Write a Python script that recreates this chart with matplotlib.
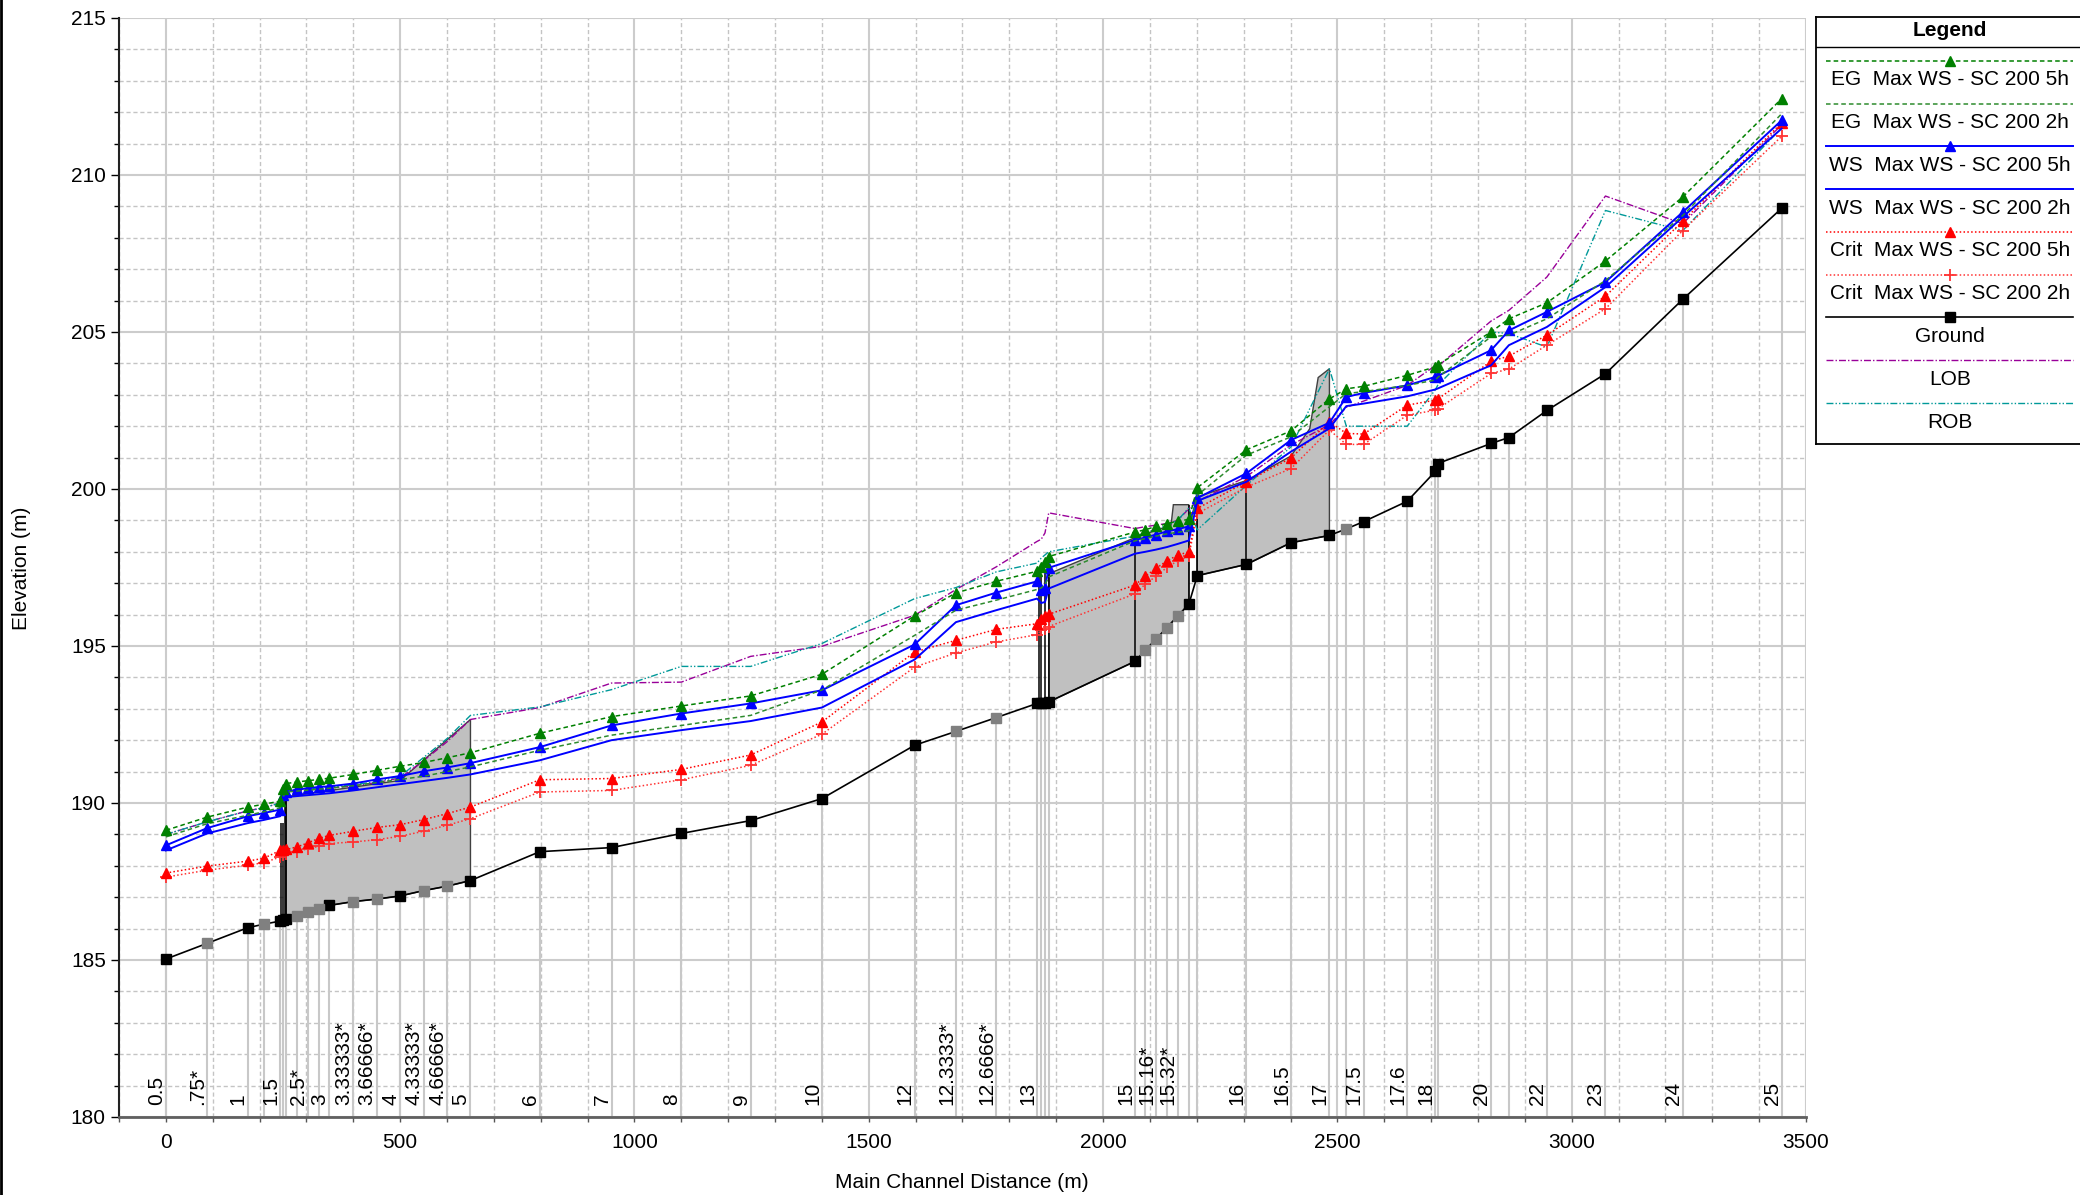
import numpy as np
import matplotlib
matplotlib.use('Agg')
import matplotlib.pyplot as plt
from matplotlib.ticker import MultipleLocator
from matplotlib.lines import Line2D
from matplotlib.patches import Polygon

plt.rcParams['font.family'] = ['Liberation Sans', 'DejaVu Sans']

# river stations along the main channel
dist = [0, 88, 175, 209, 244, 250, 257, 280, 303, 326, 349, 400, 450, 500, 550, 600, 650,
        798, 951, 1100, 1248, 1400, 1598, 1686, 1772, 1859, 1868, 1876, 1884,
        2068, 2090, 2113, 2136, 2159, 2183, 2201, 2306, 2401, 2483, 2519, 2556, 2649,
        2709, 2714, 2828, 2866, 2947, 3072, 3237, 3448]
rs_label = ['0.5', '.75*', '1', '', '1.5', '', '', '', '2.5*', '', '3', '3.33333*', '3.66666*',
            '4', '4.33333*', '4.66666*', '5', '6', '7', '8', '9', '10', '12', '12.3333*',
            '12.6666*', '13', '', '', '', '15', '', '15.16*', '', '15.32*', '', '', '16', '16.5',
            '17', '', '17.5', '17.6', '18', '', '20', '', '22', '23', '24', '25']
interp = [0, 1, 0, 1, 0, 0, 0, 1, 1, 1, 0, 1, 1, 0, 1, 1, 0,
          0, 0, 0, 0, 0, 0, 1, 1, 0, 0, 0, 0,
          0, 1, 1, 1, 1, 0, 0, 0, 0, 0, 1, 0, 0,
          0, 0, 0, 0, 0, 0, 0, 0]
ground = [185.03, 185.53, 186.03, 186.14, 186.24, 186.27, 186.30, 186.40, 186.53, 186.64, 186.74,
          186.86, 186.94, 187.04, 187.21, 187.35, 187.53,
          188.45, 188.58, 189.03, 189.44, 190.14, 191.84, 192.28, 192.72, 193.17, 193.19, 193.20, 193.22,
          194.51, 194.86, 195.22, 195.58, 195.95, 196.33, 197.24, 197.60, 198.29, 198.52, 198.73,
          198.96, 199.61, 200.56, 200.81, 201.45, 201.64, 202.50, 203.67, 206.04, 208.94]
eg_5h = [189.13, 189.55, 189.87, 189.96, 190.06, 190.45, 190.62, 190.67, 190.71, 190.75, 190.79,
         190.91, 191.04, 191.17, 191.29, 191.44, 191.60,
         192.22, 192.75, 193.09, 193.41, 194.10, 195.96, 196.69, 197.06, 197.38, 197.50, 197.67, 197.85,
         198.63, 198.70, 198.81, 198.89, 198.98, 199.03, 200.04, 201.25, 201.85, 202.87, 203.19,
         203.27, 203.62, 203.89, 203.95, 205.00, 205.42, 205.93, 207.26, 209.30, 212.43]
eg_2h = [188.92, 189.34, 189.61, 189.72, 189.85, 190.20, 190.35, 190.38, 190.41, 190.44, 190.47,
         190.55, 190.65, 190.75, 190.85, 191.00, 191.15,
         191.68, 192.16, 192.47, 192.79, 193.60, 195.34, 196.14, 196.46, 196.80, 196.85, 196.95, 197.20,
         198.35, 198.42, 198.50, 198.57, 198.62, 198.67, 199.80, 201.08, 201.66, 202.62, 203.04,
         203.10, 203.30, 203.47, 203.55, 204.85, 204.90, 205.42, 206.64, 208.71, 211.95]
ws_5h = [188.65, 189.20, 189.58, 189.68, 189.79, 190.25, 190.35, 190.43, 190.47, 190.51, 190.53,
         190.62, 190.75, 190.86, 191.01, 191.13, 191.27,
         191.78, 192.47, 192.85, 193.17, 193.59, 195.05, 196.30, 196.70, 197.06, 196.77, 196.85, 197.49,
         198.38, 198.45, 198.55, 198.65, 198.72, 198.81, 199.71, 200.50, 201.56, 202.11, 202.93,
         203.06, 203.30, 203.57, 203.60, 204.42, 205.05, 205.64, 206.59, 208.82, 211.74]
ws_2h = [188.49, 189.03, 189.36, 189.46, 189.58, 190.10, 190.19, 190.22, 190.25, 190.28, 190.31,
         190.40, 190.50, 190.60, 190.70, 190.80, 190.91,
         191.36, 192.00, 192.32, 192.61, 193.04, 194.57, 195.76, 196.14, 196.51, 196.37, 196.40, 196.83,
         197.94, 198.00, 198.07, 198.15, 198.25, 198.36, 199.62, 200.23, 201.19, 201.93, 202.64,
         202.72, 202.95, 203.17, 203.20, 203.94, 204.58, 205.16, 206.43, 208.66, 211.48]
crit_5h = [187.77, 187.99, 188.15, 188.24, 188.49, 188.50, 188.52, 188.60, 188.73, 188.87, 188.97,
           189.10, 189.22, 189.31, 189.47, 189.66, 189.87,
           190.74, 190.78, 191.07, 191.53, 192.58, 194.81, 195.18, 195.53, 195.71, 195.87, 195.95, 196.01,
           196.94, 197.22, 197.47, 197.71, 197.89, 198.00, 199.38, 200.23, 200.99, 202.14, 201.77,
           201.75, 202.67, 202.83, 202.86, 204.07, 204.23, 204.90, 206.14, 208.53, 211.66]
crit_2h = [187.64, 187.86, 188.02, 188.10, 188.28, 188.33, 188.39, 188.44, 188.55, 188.62, 188.71,
           188.76, 188.83, 188.94, 189.10, 189.29, 189.50,
           190.35, 190.40, 190.74, 191.20, 192.19, 194.33, 194.78, 195.13, 195.36, 195.50, 195.55, 195.62,
           196.66, 196.97, 197.22, 197.50, 197.71, 197.86, 199.22, 200.06, 200.65, 201.88, 201.42,
           201.42, 202.35, 202.51, 202.55, 203.68, 203.82, 204.58, 205.74, 208.23, 211.23]
lob = [189.00, 189.40, 189.75, 189.85, 190.00, 190.30, 190.35, 190.38, 190.41, 190.44, 190.47,
       190.55, 190.65, 190.80, 191.35, 191.95, 192.66,
       193.04, 193.82, 193.85, 194.67, 194.99, 195.98, 196.80, 197.52, 198.33, 198.40, 198.60, 199.24,
       198.74, 198.80, 198.85, 198.90, 199.00, 199.37, 199.60, 200.40, 201.40, 202.05, 202.60,
       202.80, 203.30, 203.93, 203.90, 205.35, 205.69, 206.75, 209.33, 208.45, 211.60]
rob = [189.00, 189.40, 189.75, 189.85, 190.00, 190.35, 190.40, 190.42, 190.45, 190.48, 190.50,
       190.58, 190.68, 190.85, 191.45, 192.05, 192.79,
       193.06, 193.61, 194.35, 194.35, 195.08, 196.51, 196.86, 197.36, 197.64, 197.80, 197.90, 198.00,
       198.50, 198.60, 198.70, 198.85, 199.00, 199.40, 198.70, 200.12, 201.34, 203.83, 202.00,
       202.00, 202.00, 203.16, 203.30, 205.00, 204.95, 204.52, 208.87, 208.23, 211.50]

# structure outlines (distance, top elevation)
deck1_x = [257, 500, 650]
deck1_top = [190.20, 190.72, 192.66]
deck2_x = [1884, 2068, 2145, 2150, 2183]
deck2_top = [197.30, 198.45, 198.85, 199.50, 199.50]
deck3_x = [2201, 2306, 2401, 2441, 2459, 2483]
deck3_top = [199.75, 200.27, 201.05, 201.92, 203.55, 203.83]
pier_x = [246, 250, 254, 257, 1864, 1868, 1876, 1884, 2068, 2183, 2201, 2306]
pier_top = [189.35, 189.35, 190.25, 190.25, 197.3, 197.3, 197.3, 197.3, 198.45, 199.5, 199.75, 200.27]

dist_a = np.array(dist, dtype=float)
ground_a = np.array(ground)

fig = plt.figure(figsize=(20.8, 11.95), dpi=100)
ax = fig.add_axes([119/2080, 1-1117/1195, 1687/2080, 1099/1195])
ax.set_xlim(-100, 3500)
ax.set_ylim(180, 215)
ax.xaxis.set_major_locator(MultipleLocator(500))
ax.xaxis.set_minor_locator(MultipleLocator(100))
ax.yaxis.set_major_locator(MultipleLocator(5))
ax.yaxis.set_minor_locator(MultipleLocator(1))
ax.set_axisbelow(True)
ax.grid(which='major', color='#cccccc', lw=1.5, ls='-')
ax.grid(which='minor', color='#c4c4c4', lw=1, ls=(0, (3, 2)))
ax.tick_params(axis='both', which='major', labelsize=15, direction='out')
ax.tick_params(axis='y', which='major', length=6, width=1)
ax.tick_params(axis='y', which='minor', length=3.5, width=1)
ax.tick_params(axis='x', which='both', length=3.5, width=1, color='#555555', pad=8)
for s in ['top', 'right']:
    ax.spines[s].set_visible(False)
ax.spines['bottom'].set_color('#606060')
ax.spines['bottom'].set_linewidth(2)
ax.spines['left'].set_color('#222222')
ax.spines['left'].set_linewidth(1.5)

# station lines up to the ground
ax.vlines(dist_a, 180, ground_a, color='#c8c8c8', lw=1.5, zorder=1)


def deck(xs, tops):
    m = (dist_a >= xs[0]) & (dist_a <= xs[-1])
    pts = list(zip(xs, tops)) + list(zip(dist_a[m][::-1], ground_a[m][::-1]))
    ax.add_patch(Polygon(pts, closed=True, fc='#c0c0c0', ec='#404040', lw=1, zorder=2))


deck(deck1_x, deck1_top)
deck(deck2_x, deck2_top)
deck(deck3_x, deck3_top)
ax.vlines(pier_x, np.interp(pier_x, dist_a, ground_a), pier_top, color='black', lw=1.1, zorder=3)

styles = [
    (lob, dict(color='#990099', ls=(0, (5, 1.5, 1, 1.5)), lw=1), 'LOB'),
    (rob, dict(color='#009999', ls=(0, (5, 1.5, 1, 1.5, 1, 1.5)), lw=1), 'ROB'),
]
main = [
    (eg_5h, dict(color='#008000', ls=(0, (3, 2)), lw=1.1, marker='^', ms=7), 'EG  Max WS - SC 200 5h'),
    (eg_2h, dict(color='#2e8b2e', ls=(0, (3, 2)), lw=1.1), 'EG  Max WS - SC 200 2h'),
    (ws_5h, dict(color='#0000ff', ls='-', lw=1.4, marker='^', ms=7), 'WS  Max WS - SC 200 5h'),
    (ws_2h, dict(color='#0000ff', ls='-', lw=1.4), 'WS  Max WS - SC 200 2h'),
    (crit_5h, dict(color='#ff0000', ls=(0, (1, 1.5)), lw=1.1, marker='^', ms=7), 'Crit  Max WS - SC 200 5h'),
    (crit_2h, dict(color='#ff3333', ls=(0, (1, 1.5)), lw=1.1, marker='+', ms=9, mew=1.3), 'Crit  Max WS - SC 200 2h'),
]
for vals, st, _ in styles:
    ax.plot(dist_a, vals, zorder=4, **st)
for vals, st, _ in main[::-1]:
    ax.plot(dist_a, vals, zorder=5, **st)

ax.plot(dist_a, ground_a, color='black', lw=1.2, zorder=5)
ip = np.array(interp) == 1
ax.plot(dist_a[~ip], ground_a[~ip], ls='none', marker='s', ms=7, color='black', zorder=6)
ax.plot(dist_a[ip], ground_a[ip], ls='none', marker='s', ms=7, color='#808080', zorder=6)

for x, lab in zip(dist, rs_label):
    if lab:
        ax.text(x, 180.37, lab, rotation=90, ha='right', va='bottom', fontsize=15, zorder=7)

fig.text(22/2080, 1-568/1195, 'Elevation (m)', rotation=90, ha='center', va='center', fontsize=15)
fig.text(962/2080, 1-1182/1195, 'Main Channel Distance (m)', ha='center', va='center', fontsize=15)
fig.add_artist(Line2D([0.0007, 0.0007], [0, 1], color='black', lw=2, transform=fig.transFigure))

# legend box
lg = fig.add_axes([1816/2080, 1-444/1195, 270/2080, 427/1195])
lg.set_xlim(1816, 2086)
lg.set_ylim(444, 17)
lg.set_xticks([])
lg.set_yticks([])
for s in lg.spines.values():
    s.set_linewidth(1.3)
lg.text(1950, 31, 'Legend', ha='center', va='center', fontsize=15, fontweight='bold')
lg.axhline(47, color='black', lw=1)
entries = main + [(ground, dict(color='black', ls='-', lw=1.2, marker='s', ms=7), 'Ground')] + styles
for i, (_, st, lab) in enumerate(entries):
    yl = 60.7 + 42.8 * i
    st = dict(st)
    mk = st.pop('marker', None)
    ms = st.pop('ms', None)
    mew = st.pop('mew', None)
    lg.plot([1826, 2073], [yl, yl], **st)
    if mk:
        lg.plot([1950], [yl], marker=mk, ms=ms, mew=mew if mew else 1, color=st['color'], ls='none')
    lg.text(1950, yl + 19, lab, ha='center', va='center', fontsize=15)

fig.savefig('out.png', dpi=100)
